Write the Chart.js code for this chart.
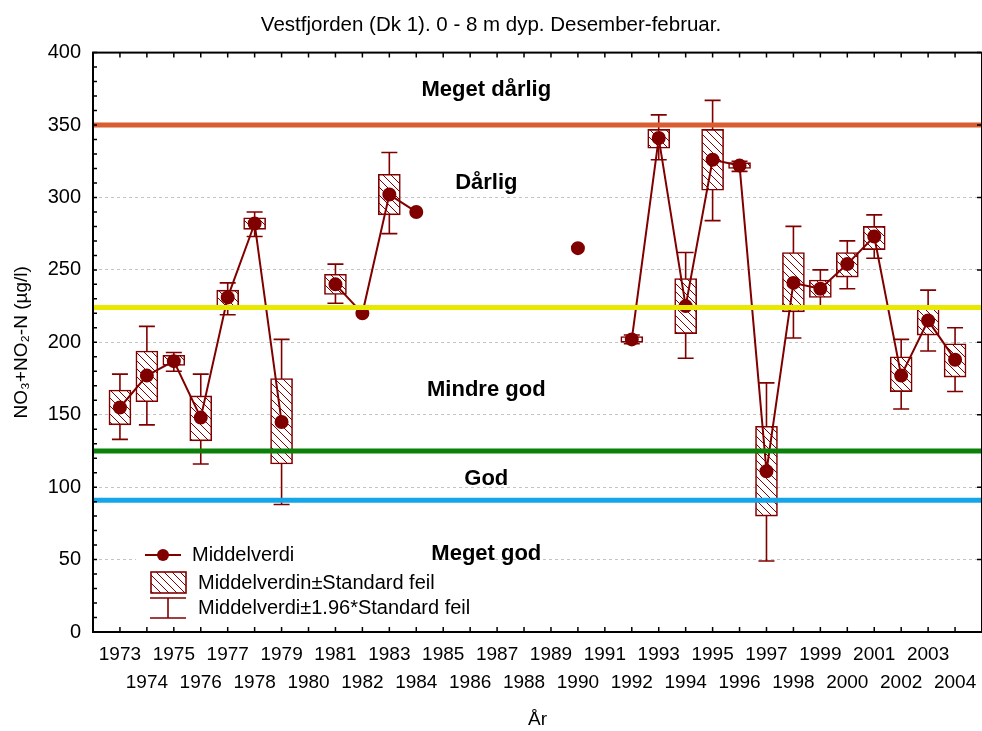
<!DOCTYPE html>
<html>
<head>
<meta charset="utf-8">
<script src="https://cdn.jsdelivr.net/npm/chart.js@4.4.1/dist/chart.umd.min.js"></script>
<style>
  body { margin: 0; background: #fff; }
  #wrap { width: 982px; height: 731px; }
</style>
</head>
<body>
<div id="wrap"><canvas id="nitchart"></canvas></div>
<script>
const years = [1973, 1974, 1975, 1976, 1977, 1978, 1979, 1980, 1981, 1982, 1983, 1984, 1985, 1986, 1987, 1988,
  1989, 1990, 1991, 1992, 1993, 1994, 1995, 1996, 1997, 1998, 1999, 2000, 2001, 2002, 2003, 2004];
const middel = [155, 177, 187, 148, 231, 282, 145, null, 240, 220, 302, 290, null, null, null, null,
  null, 265, null, 202, 341, 225, 326, 322, 111, 241, 237, 254, 273, 177, 215, 188];
const boxLow = [143, 159, 184, 132, 223, 278, 116, null, 233, null, 288, null, null, null, null, null,
  null, null, null, 200, 334, 206, 305, 320, 80, 221, 231, 245, 264, 166, 205, 176];
const boxHigh = [167, 194, 191, 163, 236, 286, 175, null, 247, null, 316, null, null, null, null, null,
  null, null, null, 204, 347, 244, 347, 324, 142, 262, 243, 262, 280, 190, 225, 199];
const whiskLow = [133, 143, 180, 116, 219, 273, 88, null, 227, null, 275, null, null, null, null, null,
  null, null, null, 199, 326, 189, 284, 318, 49, 203, 225, 237, 258, 154, 194, 166];
const whiskHigh = [178, 211, 193, 178, 241, 290, 202, null, 254, null, 331, null, null, null, null, null,
  null, null, null, 205, 357, 262, 367, 325, 172, 280, 250, 270, 288, 202, 236, 210];
const classLimits = [350, 224, 125, 91];
const classNames = ["Meget dårlig", "Dårlig", "Mindre god", "God", "Meget god"];
const legendLabels = ["Middelverdi", "Middelverdin±Standard feil", "Middelverdi±1.96*Standard feil"];

const RED = "#800000";
const FONT = "'Liberation Sans', Arial, sans-serif";
const limitColors = ["#da5c31", "#e8e800", "#0b800b", "#14a6e8"];

// hatched fill for the boxes
function makeHatch() {
  const c = document.createElement("canvas");
  c.width = 8; c.height = 8;
  const g = c.getContext("2d");
  g.fillStyle = "#fff";
  g.fillRect(0, 0, 8, 8);
  g.strokeStyle = RED;
  g.lineWidth = 1;
  g.beginPath();
  [-8, 0, 8].forEach((k) => { g.moveTo(k, 0); g.lineTo(k + 8, 8); });
  g.stroke();
  return g.createPattern(c, "repeat");
}
const hatch = makeHatch();

const boxData = [];
years.forEach((yr, i) => {
  if (boxLow[i] != null) boxData.push({ x: yr, y: [boxLow[i], boxHigh[i]] });
});

const whiskerPlugin = {
  id: "whiskers",
  beforeDatasetsDraw(chart) {
    const { ctx, scales: { x, y } } = chart;
    ctx.save();
    ctx.strokeStyle = RED;
    ctx.lineWidth = 1.6;
    years.forEach((yr, i) => {
      if (whiskLow[i] == null) return;
      const px = x.getPixelForValue(yr);
      const lo = y.getPixelForValue(whiskLow[i]);
      const hi = y.getPixelForValue(whiskHigh[i]);
      ctx.beginPath();
      ctx.moveTo(px, lo); ctx.lineTo(px, hi);
      ctx.moveTo(px - 8, lo); ctx.lineTo(px + 8, lo);
      ctx.moveTo(px - 8, hi); ctx.lineTo(px + 8, hi);
      ctx.stroke();
    });
    ctx.restore();
  },
};

const framePlugin = {
  id: "frame",
  afterDraw(chart) {
    const { ctx, chartArea: a, scales: { x, y } } = chart;
    ctx.save();

    // legend
    ctx.fillStyle = "#fff";
    ctx.fillRect(136, 538, 300, 86);
    ctx.strokeStyle = RED;
    ctx.fillStyle = RED;
    ctx.lineWidth = 2;
    ctx.beginPath();
    ctx.moveTo(145, 555); ctx.lineTo(181, 555);
    ctx.stroke();
    ctx.beginPath();
    ctx.arc(163, 555, 6, 0, Math.PI * 2);
    ctx.fill();
    ctx.fillStyle = hatch;
    ctx.fillRect(151, 572, 35, 21);
    ctx.lineWidth = 1.6;
    ctx.strokeRect(151, 572, 35, 21);
    ctx.beginPath();
    ctx.moveTo(150, 598); ctx.lineTo(186, 598);
    ctx.moveTo(168, 598); ctx.lineTo(168, 618);
    ctx.moveTo(150, 618); ctx.lineTo(186, 618);
    ctx.stroke();
    ctx.fillStyle = "#000";
    ctx.font = "20px " + FONT;
    ctx.textAlign = "left";
    ctx.textBaseline = "middle";
    ctx.fillText(legendLabels[0], 192, 555);
    ctx.fillText(legendLabels[1], 198, 583);
    ctx.fillText(legendLabels[2], 198, 608);

    // zone names
    const zoneY = [374, 310, 167, 106, 54];
    ctx.font = "bold 22px " + FONT;
    ctx.textAlign = "center";
    classNames.forEach((t, i) => ctx.fillText(t, x.getPixelForValue(1986.6), y.getPixelForValue(zoneY[i])));

    // frame + inward ticks
    ctx.strokeStyle = "#000";
    ctx.lineWidth = 2;
    ctx.strokeRect(a.left, a.top, a.right - a.left, a.bottom - a.top);
    ctx.lineWidth = 1.5;
    ctx.beginPath();
    years.forEach((yr) => {
      const px = x.getPixelForValue(yr);
      ctx.moveTo(px, a.bottom); ctx.lineTo(px, a.bottom - 5);
      ctx.moveTo(px, a.top); ctx.lineTo(px, a.top + 5);
    });
    for (let v = 0; v <= 400; v += 10) {
      const py = y.getPixelForValue(v);
      ctx.moveTo(a.left, py); ctx.lineTo(a.left + 4, py);
      if (v % 50 === 0) { ctx.moveTo(a.right - 1, py); ctx.lineTo(a.right - 5, py); }
    }
    ctx.stroke();
    ctx.restore();
  },
};

const datasets = [
  {
    type: "bar",
    data: boxData,
    backgroundColor: hatch,
    borderColor: RED,
    borderWidth: 1.6,
    borderSkipped: false,
    barThickness: 22,
    order: 3,
  },
  {
    type: "line",
    data: years.map((yr, i) => ({ x: yr, y: middel[i] })),
    borderColor: RED,
    borderWidth: 2,
    pointRadius: 6,
    pointBackgroundColor: RED,
    pointBorderColor: RED,
    spanGaps: false,
    order: 2,
  },
];
classLimits.forEach((v, i) => {
  datasets.push({
    type: "line",
    data: [{ x: 1972, y: v }, { x: 2005, y: v }],
    borderColor: limitColors[i],
    borderWidth: 5,
    pointRadius: 0,
    order: 0,
  });
});

new Chart(document.getElementById("nitchart"), {
  type: "bar",
  data: { datasets: datasets },
  options: {
    responsive: true,
    maintainAspectRatio: false,
    animation: false,
    layout: { autoPadding: false, padding: { left: 0, right: 0, top: 0, bottom: 0 } },
    scales: {
      x: {
        type: "linear",
        min: 1972,
        max: 2005,
        offset: false,
        afterBuildTicks: (s) => { s.ticks = years.map((v) => ({ value: v })); },
        afterFit: (s) => { s.height = 99; s.paddingLeft = 0; s.paddingRight = 0; },
        grid: { display: false, drawTicks: false, offset: false },
        border: { display: false },
        ticks: {
          autoSkip: false,
          maxRotation: 0,
          minRotation: 0,
          padding: 9,
          color: "#000",
          font: { family: FONT, size: 19, lineHeight: 1.47 },
          callback: (v) => (v % 2 ? [String(v), ""] : ["", String(v)]),
        },
        title: { display: true, text: "År", color: "#000", font: { family: FONT, size: 19 }, padding: { top: 0, bottom: 0 } },
      },
      y: {
        min: 0,
        max: 400,
        afterFit: (s) => { s.width = 93; s.paddingTop = 0; s.paddingBottom = 0; },
        grid: { color: "#c4c4c4", lineWidth: 1, drawTicks: false },
        border: { display: false, dash: [3, 3] },
        ticks: { stepSize: 50, padding: 12, color: "#000", font: { family: FONT, size: 20 } },
        title: { display: true, text: "NO₃+NO₂-N (µg/l)", color: "#000", font: { family: FONT, size: 19 }, padding: { top: 10, bottom: 0 } },
      },
    },
    plugins: {
      legend: { display: false },
      tooltip: { enabled: false },
      title: {
        display: true,
        text: "Vestfjorden (Dk 1). 0 - 8 m dyp. Desember-februar.",
        color: "#000",
        font: { family: FONT, size: 20.5, weight: "normal" },
        padding: { top: 13, bottom: 15 },
      },
    },
  },
  plugins: [whiskerPlugin, framePlugin],
});
</script>
</body>
</html>
